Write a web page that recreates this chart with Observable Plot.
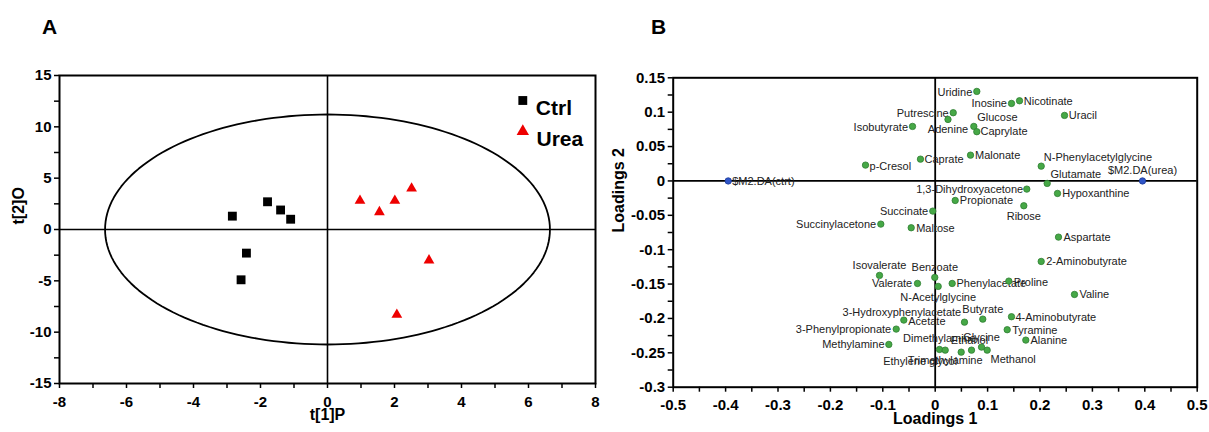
<!DOCTYPE html>
<html><head><meta charset="utf-8">
<script src="https://cdn.jsdelivr.net/npm/d3@7"></script>
<script src="https://cdn.jsdelivr.net/npm/@observablehq/plot@0.6"></script>
<style>
body{margin:0;background:#fff;}
#wrap{position:relative;width:1209px;height:432px;overflow:hidden;font-family:Arial,"Liberation Sans",sans-serif;background:#fff;}
#wrap svg{position:absolute;top:0;}
.panel{position:absolute;font-weight:bold;font-size:21px;line-height:21px;color:#000;}
</style></head><body>
<div id="wrap">
<div class="panel" style="left:42px;top:15.5px">A</div>
<div class="panel" style="left:651px;top:15.5px">B</div>
</div>
<script>
// ---------- Panel A: scores ----------
const ctrlT1 = [-2.84, -1.79, -1.40, -1.10, -2.42, -2.58];
const ctrlT2 = [1.3, 2.7, 1.9, 1.0, -2.3, -4.9];
const ureaT1 = [0.97, 2.01, 2.51, 1.55, 3.03, 2.07];
const ureaT2 = [2.8, 2.8, 4.0, 1.7, -3.0, -8.3];
const ellipseAxes = [6.64, 11.2]; // Hotelling T2 semi-axes (t1, t2)
const groupNames = ["Ctrl", "Urea"];
const xTicksA = d3.range(-8, 9, 1);
const yTicksA = d3.range(-15, 15.01, 2.5);

// ---------- Panel B: loadings ----------
const metabolites = ["Uridine","Inosine","Nicotinate","Putrescine","Adenine","Glucose","Caprylate","Uracil","Isobutyrate","p-Cresol","Caprate","Malonate","N-Phenylacetylglycine","Glutamate","1,3-Dihydroxyacetone","Hypoxanthine","Propionate","Ribose","Succinate","Succinylacetone","Maltose","Aspartate","2-Aminobutyrate","Isovalerate","Benzoate","Valerate","N-Acetylglycine","Phenylacetate","Proline","Valine","3-Hydroxyphenylacetate","Acetate","Butyrate","4-Aminobutyrate","Tyramine","Alanine","3-Phenylpropionate","Methylamine","Dimethylamine","Trimethylamine","Ethylene glycol","Ethanol","Glycine","Methanol"];
const loadings1 = [0.0794,0.1456,0.1609,0.0344,0.0244,0.0737,0.0794,0.2468,-0.0433,-0.133,-0.0281,0.0674,0.2023,0.2137,0.1748,0.2334,0.0382,0.1691,-0.0046,-0.1038,-0.0458,0.2353,0.2023,-0.1063,-0.0008,-0.0338,0.0057,0.0324,0.1405,0.2658,0.0559,-0.0599,0.0908,0.1456,0.1374,0.1729,-0.0744,-0.0885,0.0082,0.0191,0.0496,0.0693,0.0884,0.0992];
const loadings2 = [0.1302,0.1127,0.1166,0.0992,0.0894,0.0793,0.0716,0.0953,0.0793,0.023,0.0317,0.0375,0.0215,-0.0036,-0.0119,-0.0182,-0.0284,-0.0361,-0.0439,-0.0628,-0.0681,-0.0817,-0.1171,-0.1374,-0.1403,-0.1491,-0.1534,-0.1491,-0.1457,-0.1651,-0.2054,-0.2024,-0.201,-0.1975,-0.2164,-0.2315,-0.2155,-0.2378,-0.2451,-0.2461,-0.249,-0.2461,-0.2417,-0.2461];
const classTerms = ["$M2.DA(ctrt)", "$M2.DA(urea)"];
const classLoad1 = [-0.395, 0.3956];
const classLoad2 = [0, 0];
const xTicksB = d3.range(-10, 11, 1).map(i => i / 20);
const yTicksB = d3.range(-12, 7, 1).map(i => i / 40);

// label placement (anchor, dx, dy in px)
const labelPlace = {
  "$M2.DA(ctrt)": ["start", 4, 1], "$M2.DA(urea)": ["middle", 0, -10],
  "Isobutyrate": ["end", -4.5, 1], "p-Cresol": ["start", 4, 1], "Caprate": ["start", 4, 0],
  "Malonate": ["start", 4.5, 0], "Uridine": ["end", -4.5, 1], "Inosine": ["end", -4.5, 0.5],
  "Nicotinate": ["start", 4.3, 0.5], "Putrescine": ["end", -4.5, 0.5], "Adenine": ["middle", 0, 10.5],
  "Glucose": ["start", 3.4, -8.7], "Caprylate": ["start", 3.7, 0], "Uracil": ["start", 4.3, 0],
  "N-Phenylacetylglycine": ["start", 2.6, -8.4], "Glutamate": ["start", 3.3, -8.7],
  "1,3-Dihydroxyacetone": ["end", -3.6, 0], "Hypoxanthine": ["start", 4.7, 0.3],
  "Propionate": ["start", 4.6, 0], "Ribose": ["middle", 0, 10.7], "Succinate": ["end", -4.6, 0.3],
  "Succinylacetone": ["end", -4.6, 0], "Maltose": ["start", 5, 0.4], "Aspartate": ["start", 5, 0],
  "2-Aminobutyrate": ["start", 5, 0.3], "Isovalerate": ["middle", 0, -10], "Benzoate": ["middle", 0, -10.3],
  "Valerate": ["end", -5.3, 0.3], "N-Acetylglycine": ["middle", 0, 11.3], "Phenylacetate": ["start", 4.3, 0.3],
  "Proline": ["start", 5, 1], "Valine": ["start", 5, 0.3], "3-Hydroxyphenylacetate": ["end", -3.3, -9.4],
  "Acetate": ["start", 4.4, 1.3], "Butyrate": ["middle", 0, -9.7], "4-Aminobutyrate": ["start", 4, 1],
  "Tyramine": ["start", 5, 0.7], "Alanine": ["start", 4.7, 0.6], "3-Phenylpropionate": ["end", -5, 0.6],
  "Methylamine": ["end", -4.3, 0], "Dimethylamine": ["middle", 0, -10.7], "Trimethylamine": ["middle", 0, 10.3],
  "Ethylene glycol": ["end", -4, 9.3], "Ethanol": ["middle", -2, -9.7], "Glycine": ["middle", 0, -10],
  "Methanol": ["start", 3.3, 9.6]
};

const FONT = "Arial, 'Liberation Sans', sans-serif";
const wrap = document.getElementById("wrap");

// ---- build panel A ----
const ctrl = ctrlT1.map((x, i) => ({t1: x, t2: ctrlT2[i]}));
const urea = ureaT1.map((x, i) => ({t1: x, t2: ureaT2[i]}));
const ellipse = d3.range(0, 361, 2).map(a => ({t1: ellipseAxes[0] * Math.cos(a * Math.PI / 180), t2: ellipseAxes[1] * Math.sin(a * Math.PI / 180)}));

const plotA = Plot.plot({
  width: 600, height: 432,
  marginLeft: 59, marginRight: 5, marginTop: 75, marginBottom: 49,
  x: {domain: [-8, 8]}, y: {domain: [-15, 15]},
  style: {fontFamily: FONT, fontSize: "15px", fontWeight: "bold", color: "black", background: "transparent"},
  marks: [
    Plot.ruleX([0], {stroke: "black", strokeWidth: 1.6}),
    Plot.ruleY([0], {stroke: "black", strokeWidth: 1.6}),
    Plot.line(ellipse, {x: "t1", y: "t2", stroke: "black", strokeWidth: 1.8}),
    Plot.dot(ctrl, {x: "t1", y: "t2", symbol: "square", r: 5, fill: "black"}),
    Plot.dot(urea, {x: "t1", y: "t2", symbol: "triangle", r: 4, fill: "#ee0000"}),
    Plot.axisX({ticks: xTicksA, tickSize: 5, tickPadding: 8, strokeWidth: 1.5, label: null, tickFormat: d => d % 2 === 0 ? String(d) : ""}),
    Plot.axisY({ticks: yTicksA, tickSize: 5, tickPadding: 3, strokeWidth: 1.5, label: null, tickFormat: d => d % 5 === 0 ? String(d) : ""}),
    Plot.frame({stroke: "black", strokeWidth: 2}),
    Plot.text(["t[1]P"], {frameAnchor: "bottom", dy: 36, text: d => d, fontSize: 16, fontWeight: "bold"}),
    Plot.text(["t[2]O"], {frameAnchor: "left", dx: -41, dy: -5, rotate: -90, text: d => d, fontSize: 16, fontWeight: "bold"}),
    Plot.dot([groupNames[0]], {frameAnchor: "top-right", dx: -72.7, dy: 25, symbol: "square", r: 5, fill: "black"}),
    Plot.dot([groupNames[1]], {frameAnchor: "top-right", dx: -72.7, dy: 56, symbol: "triangle", r: 4.6, fill: "#ee0000"}),
    Plot.text([groupNames[0]], {frameAnchor: "top-right", dx: -59.7, dy: 25, text: d => d, textAnchor: "start", fontSize: 21, fontWeight: "bold"}),
    Plot.text([groupNames[1]], {frameAnchor: "top-right", dx: -59, dy: 56, text: d => d, textAnchor: "start", fontSize: 21, fontWeight: "bold"})
  ]
});
plotA.style.left = "0px";
wrap.appendChild(plotA);

// ---- build panel B ----
const loads = metabolites.map((n, i) => ({name: n, l1: loadings1[i], l2: loadings2[i]}));
const classes = classTerms.map((n, i) => ({name: n, l1: classLoad1[i], l2: classLoad2[i]}));
const allLabels = classes.concat(loads);
const fmtB = d => {
  const v = +d.toFixed(3);
  return v === 0 ? "0" : String(v);
};
const labelMarks = allLabels.map(d => {
  const p = labelPlace[d.name] || ["start", 4, 0];
  return Plot.text([d], {x: "l1", y: "l2", text: "name", textAnchor: p[0], dx: p[1], dy: p[2], fontSize: 11, fontWeight: "normal", fill: "#222"});
});

const plotB = Plot.plot({
  width: 609, height: 432,
  marginLeft: 72.7, marginRight: 12.3, marginTop: 77.3, marginBottom: 45.3,
  x: {domain: [-0.5, 0.5]}, y: {domain: [-0.3, 0.15]},
  style: {fontFamily: FONT, fontSize: "15px", fontWeight: "bold", color: "black", background: "transparent"},
  marks: [
    Plot.ruleX([0], {stroke: "black", strokeWidth: 1.8}),
    Plot.ruleY([0], {stroke: "black", strokeWidth: 1.8}),
    ...labelMarks,
    Plot.dot(loads, {x: "l1", y: "l2", r: 3.2, fill: "#46a846", stroke: "#2e7d32", strokeWidth: 0.8}),
    Plot.dot(classes, {x: "l1", y: "l2", r: 3.2, fill: "#2f55c8", stroke: "#1f3c99", strokeWidth: 0.8}),
    Plot.axisX({ticks: xTicksB, tickSize: 5, tickPadding: 7, strokeWidth: 1.5, label: null,
      tickFormat: d => Math.abs(d * 10 - Math.round(d * 10)) < 1e-6 ? fmtB(d) : ""}),
    Plot.axisY({ticks: yTicksB, tickSize: 5, tickPadding: 3, strokeWidth: 1.5, label: null,
      tickFormat: d => Math.abs(d * 20 - Math.round(d * 20)) < 1e-6 ? fmtB(d) : ""}),
    Plot.frame({stroke: "black", strokeWidth: 2}),
    Plot.text(["Loadings 1"], {frameAnchor: "bottom", dy: 37, text: d => d, fontSize: 16, fontWeight: "bold"}),
    Plot.text(["Loadings 2"], {frameAnchor: "left", dx: -54, rotate: -90, text: d => d, fontSize: 16, fontWeight: "bold"})
  ]
});
plotB.style.left = "600px";
wrap.appendChild(plotB);
</script>
</body></html>
